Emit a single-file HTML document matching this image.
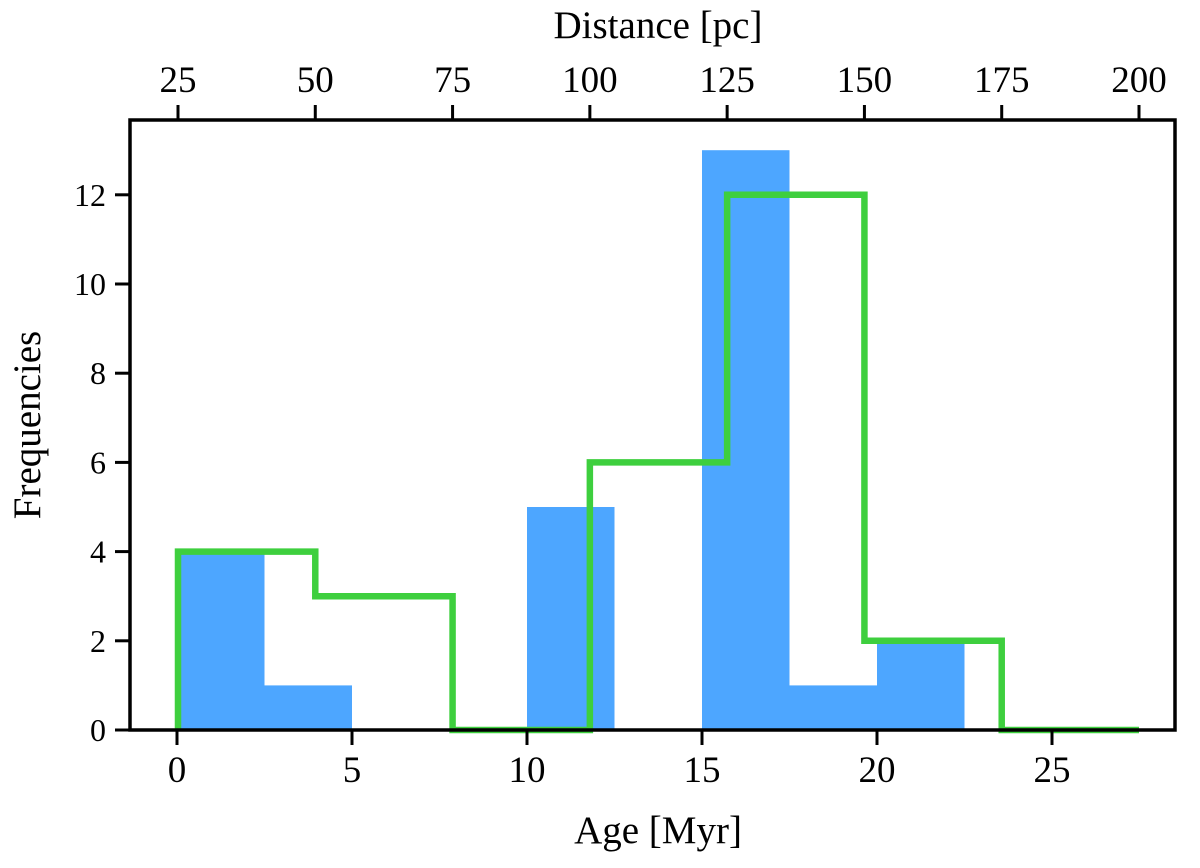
<!DOCTYPE html>
<html><head><meta charset="utf-8"><style>
body{margin:0;background:#fff}
svg text{font-family:"Liberation Serif",serif;fill:#000}
</style></head><body>
<svg width="1200" height="863">
<g id="marks"></g>
<g id="axes"></g>
</svg>
<script>
const ageEdges=[0,2.5,5,7.5,10,12.5,15,17.5,20,22.5];
const ageCounts=[4,1,0,0,5,0,13,1,2];
const distEdges=[25,50,75,100,125,150,175,200];
const distCounts=[4,3,0,6,12,2,0];
const ageTicks=[0,5,10,15,20,25];
const distTicks=[25,50,75,100,125,150,175,200];
const yTicks=[0,2,4,6,8,10,12];
const L=130,R=1175,T=120,B=730;
const xA=v=>177+v*35;
const xD=v=>178+(v-25)*(1139-178)/175;
const y=v=>730-v*44.6;
const NS='http://www.w3.org/2000/svg';
function mk(tag,attrs,parent){const e=document.createElementNS(NS,tag);for(const k in attrs)e.setAttribute(k,attrs[k]);parent.appendChild(e);return e;}
const marks=document.getElementById('marks'),axes=document.getElementById('axes');
ageCounts.forEach((c,i)=>{if(!c)return;
 const r=mk('rect',{x:xA(ageEdges[i]),y:y(c),width:xA(ageEdges[i+1])-xA(ageEdges[i]),height:y(0)-y(c),fill:'#4da6ff'},marks);
 
 
});
let d='M'+xD(distEdges[0])+' '+y(0);
distCounts.forEach((c,i)=>{d+=' L'+xD(distEdges[i])+' '+y(c)+' L'+xD(distEdges[i+1])+' '+y(c);});
d+=' L'+xD(distEdges[distEdges.length-1])+' '+y(0);
const st=mk('path',{d:d,fill:'none',stroke:'#3ecf3e','stroke-width':6.5},marks);


const fr=mk('rect',{x:L,y:T,width:R-L,height:B-T,fill:'none',stroke:'#000','stroke-width':3.5},axes);


ageTicks.forEach(v=>{mk('line',{x1:xA(v),x2:xA(v),y1:B,y2:B+15,stroke:'#000','stroke-width':3},axes);
 const t=mk('text',{x:xA(v),y:B+52,'font-size':37,'text-anchor':'middle'},axes);t.textContent=v;
 
 });
distTicks.forEach(v=>{mk('line',{x1:xD(v),x2:xD(v),y1:T,y2:T-15,stroke:'#000','stroke-width':3},axes);
 const t=mk('text',{x:xD(v),y:T-28,'font-size':37,'text-anchor':'middle'},axes);t.textContent=v;
 
 });
yTicks.forEach(v=>{mk('line',{x1:L,x2:L-15,y1:y(v),y2:y(v),stroke:'#000','stroke-width':3},axes);
 const t=mk('text',{x:L-24,y:y(v)+11,'font-size':32,'text-anchor':'end'},axes);t.textContent=v;
 
 });
</script>
<svg style="position:absolute;left:0;top:0" width="1200" height="863">
<text x="658" y="843" font-size="39" text-anchor="middle">Age [Myr]</text>
<text x="658" y="38" font-size="39" text-anchor="middle">Distance [pc]</text>
<text x="40" y="425" font-size="39" text-anchor="middle" transform="rotate(-90 40 425)">Frequencies</text>
</svg>
</body></html>
